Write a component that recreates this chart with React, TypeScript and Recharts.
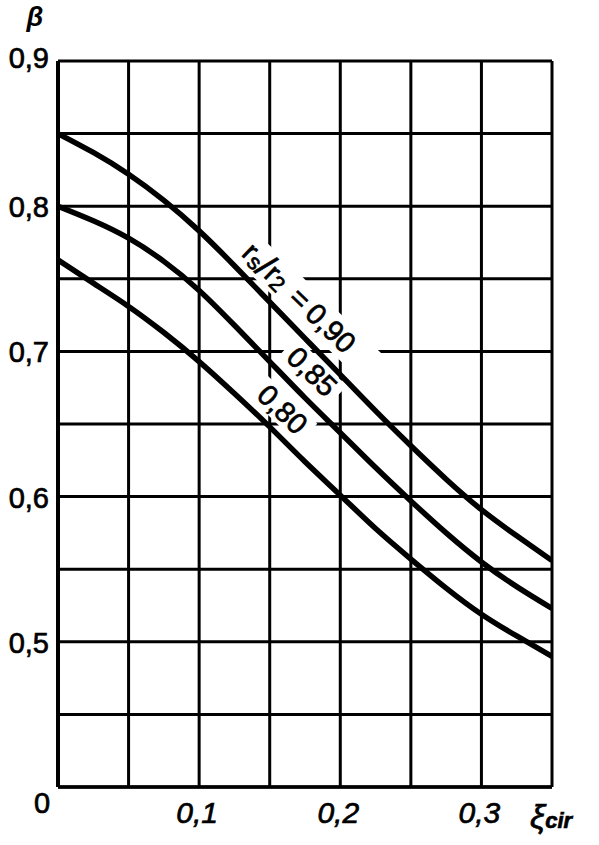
import React from 'react';
import {
  LineChart,
  Line,
  XAxis,
  YAxis,
  CartesianGrid,
  ReferenceDot,
  Label
} from 'recharts';

// ξcir along the bottom, read every 0.025
const XI = [0, 0.025, 0.05, 0.075, 0.1, 0.125, 0.15, 0.175, 0.2, 0.225, 0.25, 0.275, 0.3, 0.325, 0.35];

// β for rs/r2 = 0,90 / 0,85 / 0,80
const BETA_090 = [0.85, 0.837, 0.822, 0.804, 0.783, 0.759, 0.734, 0.709, 0.684, 0.659, 0.635, 0.612, 0.591, 0.573, 0.556];
const BETA_085 = [0.8, 0.79, 0.778, 0.762, 0.742, 0.718, 0.693, 0.668, 0.644, 0.62, 0.597, 0.575, 0.555, 0.538, 0.523];
const BETA_080 = [0.763, 0.747, 0.731, 0.713, 0.693, 0.671, 0.648, 0.624, 0.601, 0.578, 0.557, 0.537, 0.519, 0.504, 0.49];

const X_TICKS = [0, 0.05, 0.1, 0.15, 0.2, 0.25, 0.3, 0.35];
const X_LABELED = [0.1, 0.2, 0.3];
const Y_TICKS = [0.4, 0.45, 0.5, 0.55, 0.6, 0.65, 0.7, 0.75, 0.8, 0.85, 0.9];
const Y_LABELED = [0.5, 0.6, 0.7, 0.8, 0.9];

// curve captions, anchored in data space
const CAPTION_XI = [0.171, 0.18, 0.159];
const CAPTION_BETA = [0.737, 0.686, 0.66];
const CAPTION_TEXT = ['0,90', '0,85', '0,80'];

const data = XI.map((xi, i) => ({
  xi,
  b90: BETA_090[i],
  b85: BETA_085[i],
  b80: BETA_080[i]
}));

const FONT = "'Liberation Sans', Arial, sans-serif";
const ANGLE = 44;
// scanned print looks heavier than a plain regular face
const INK = { fill: '#000', stroke: '#000', strokeWidth: 0.7 };

const comma = (v: number) => String(v).replace('.', ',');

const XTick = (props: any) => {
  const { x, y, payload } = props;
  const v = payload.value;
  if (v === 0) {
    return (
      <text x={x - 16} y={y + 16} textAnchor="middle" dominantBaseline="central"
        fontSize={29} fontFamily={FONT} {...INK}>0</text>
    );
  }
  if (!X_LABELED.includes(v)) return null;
  return (
    <text x={x - 2} y={y + 36} textAnchor="middle" fontSize={30} fontStyle="italic"
      fontFamily={FONT} {...INK}>{comma(v)}</text>
  );
};

const YTick = (props: any) => {
  const { x, y, payload } = props;
  const v = payload.value;
  if (!Y_LABELED.includes(v)) return null;
  return (
    <text x={x - 9} y={v === 0.9 ? y - 3 : y + 1} textAnchor="end" dominantBaseline="central"
      fontSize={29} fontFamily={FONT} {...INK}>{comma(v)}</text>
  );
};

const XTitle = (props: any) => {
  const vb = props.viewBox;
  return (
    <text x={vb.x + vb.width - 22} y={vb.y + 41} fontFamily={FONT} fontStyle="italic" {...INK}>
      <tspan fontSize={34}>ξ</tspan>
      <tspan fontSize={22} fontWeight="bold">cir</tspan>
    </text>
  );
};

const YTitle = (props: any) => {
  const vb = props.viewBox;
  return (
    <text x={35} y={vb.y - 35} textAnchor="middle" fontSize={27} fontStyle="italic"
      fontWeight="bold" fontFamily={FONT} fill="#000">β</text>
  );
};

const Mask = ({ cx, cy, w, h }: any) => (
  <rect x={cx - w / 2} y={cy - h / 2} width={w} height={h} fill="#fff"
    transform={`rotate(${ANGLE} ${cx} ${cy})`} />
);

const Caption = ({ cx, cy, i }: any) => {
  const common = {
    x: cx,
    y: cy,
    textAnchor: 'middle' as const,
    dominantBaseline: 'central' as const,
    fontFamily: FONT,
    fontSize: 29,
    ...INK,
    transform: `rotate(${ANGLE} ${cx} ${cy})`
  };
  if (i === 0) {
    return (
      <text {...common}>
        r<tspan fontSize={22} dy={5}>s</tspan>
        <tspan fontSize={36} dy={-5}>/</tspan>
        r<tspan fontSize={22} dy={5}>2</tspan>
        <tspan dy={-5} dx={12}>=</tspan>
        <tspan dx={6}>{CAPTION_TEXT[0]}</tspan>
      </text>
    );
  }
  return <text {...common}>{CAPTION_TEXT[i]}</text>;
};

const MASK_W = [200, 70, 70];
const MASK_H = [34, 28, 28];

export default function App() {
  return (
    <div style={{ position: 'absolute', left: 0, top: 0, width: 599, height: 845, background: '#fff' }}>
      <LineChart width={599} height={845} data={data}
        margin={{ top: 61, right: 47, bottom: 0, left: 0 }}>
        <CartesianGrid stroke="#000" strokeWidth={3} />
        <XAxis type="number" dataKey="xi" domain={[0, 0.35]} ticks={X_TICKS}
          allowDataOverflow height={58} tickSize={0} tickMargin={0}
          axisLine={{ stroke: '#000', strokeWidth: 3.5 }} tickLine={false} tick={<XTick />}>
          <Label content={<XTitle />} />
        </XAxis>
        <YAxis type="number" domain={[0.4, 0.9]} ticks={Y_TICKS} allowDataOverflow
          width={58} tickSize={0} tickMargin={0}
          axisLine={{ stroke: '#000', strokeWidth: 4 }} tickLine={false} tick={<YTick />}>
          <Label content={<YTitle />} />
        </YAxis>
        {CAPTION_XI.map((xi, i) => (
          <ReferenceDot key={`m${i}`} x={xi} y={CAPTION_BETA[i]} r={0}
            shape={(p: any) => <Mask cx={p.cx} cy={p.cy} w={MASK_W[i]} h={MASK_H[i]} />} />
        ))}
        <Line type="natural" dataKey="b90" stroke="#000" strokeWidth={5.5} dot={false} isAnimationActive={false} />
        <Line type="natural" dataKey="b85" stroke="#000" strokeWidth={5.5} dot={false} isAnimationActive={false} />
        <Line type="natural" dataKey="b80" stroke="#000" strokeWidth={5.5} dot={false} isAnimationActive={false} />
        {CAPTION_XI.map((xi, i) => (
          <ReferenceDot key={`c${i}`} x={xi} y={CAPTION_BETA[i]} r={0}
            shape={(p: any) => <Caption cx={p.cx} cy={p.cy} i={i} />} />
        ))}
      </LineChart>
    </div>
  );
}
